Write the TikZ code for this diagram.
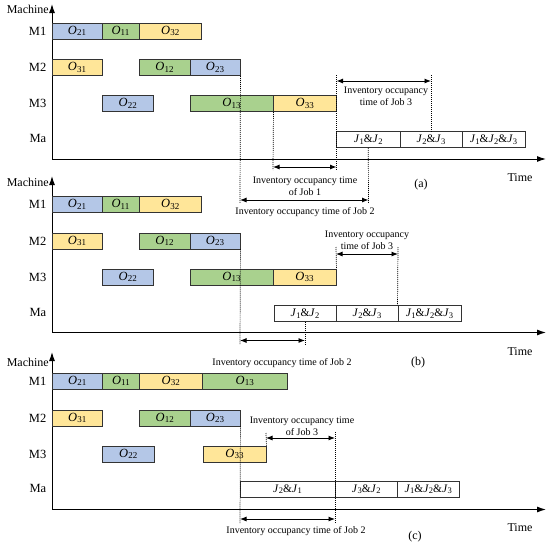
\documentclass[tikz,border=0pt]{standalone}
\usepackage{fontspec}
\setmainfont{Liberation Serif}
\usetikzlibrary{arrows.meta}
\definecolor{cblue}{HTML}{B4C7E7}
\definecolor{cgreen}{HTML}{A9D18E}
\definecolor{cyellow}{HTML}{FFE699}
\newcommand\Op[1]{\textit{O}\raisebox{-0.28ex}{\fontsize{9}{10}\selectfont #1}}
\newcommand\Jb[1]{\textit{J}\raisebox{-0.28ex}{\fontsize{8.5}{10}\selectfont #1}}
\newcommand\jt{\fontsize{11.5}{13}\selectfont}
\newcommand\gbox[6]{\node[barbox,fill=#2,minimum width={#4-#3}] (#1) at ({(#3+#4)/2},#5) {#6};}
\begin{document}
\begin{tikzpicture}[x=1pt,y=-1pt,
  barbox/.style={draw=black!80,line width=0.9pt,minimum height=16,inner sep=0pt,font=\fontsize{12.5}{13}\selectfont},
  axisline/.style={-{Latex[length=9pt,width=6pt]},line width=1pt},
  dimarrow/.style={{Latex[length=6.5pt,width=5pt]}-{Latex[length=6.5pt,width=5pt]},line width=0.9pt},
  dotline/.style={line width=0.7pt,dash pattern=on 1pt off 1pt},
  lbl/.style={inner sep=0pt,font=\fontsize{10}{12}\selectfont,align=center},
  axlbl/.style={inner sep=0pt,font=\fontsize{12}{14}\selectfont},
  rowlbl/.style={inner sep=0pt,anchor=east,font=\fontsize{12.5}{14}\selectfont}]
\useasboundingbox (0,0) rectangle (550,549);

% ================= panel (a) =================
\coordinate (aO) at (52,159);
\coordinate (aYtop) at (52,4);
\coordinate (aXend) at (546,159);
\draw[axisline] (aO) -- (aYtop);
\draw[axisline] (aO) -- (aXend);
\node[axlbl,anchor=east] (amach) at (49,9) {Machine};
\node[rowlbl] (aM1) at (46.5,31) {M1};
\node[rowlbl] (aM2) at (46.5,67.5) {M2};
\node[rowlbl] (aM3) at (46.5,103.5) {M3};
\node[rowlbl] (aMa) at (46.5,138) {Ma};
\node[axlbl] (atime) at (520,178) {Time};
\node[axlbl] (acap) at (421,185) {(a)};

\gbox{a21}{cblue}{52}{102}{31}{\Op{21}}
\gbox{a11}{cgreen}{102}{139}{31}{\Op{11}}
\gbox{a32}{cyellow}{139}{201.5}{31}{\Op{32}}
\gbox{a31}{cyellow}{52}{102}{67.5}{\Op{31}}
\gbox{a12}{cgreen}{139}{190}{67.5}{\Op{12}}
\gbox{a23}{cblue}{190}{240}{67.5}{\Op{23}}
\gbox{a22}{cblue}{102}{153.5}{103.5}{\Op{22}}
\gbox{a13}{cgreen}{190}{273}{103.5}{\Op{13}}
\gbox{a33}{cyellow}{273}{336.5}{103.5}{\Op{33}}
\gbox{aJ12}{white}{336.5}{400}{139.5}{\jt\Jb{1}\&\Jb{2}}
\gbox{aJ23}{white}{400}{462}{139.5}{\jt\Jb{2}\&\Jb{3}}
\gbox{aJ123}{white}{462}{525}{139.5}{\jt\Jb{1}\&\Jb{2}\&\Jb{3}}

\coordinate (aj2l) at (240,200);
\coordinate (aj2r) at (368.5,200);
\coordinate (aj2lb) at (240,203);
\coordinate (aj2rb) at (368.5,203);
\coordinate (aj1l) at (273,167);
\coordinate (aj1r) at (336.5,167);
\coordinate (aj1lb) at (273,170);
\coordinate (aj1rb) at (336.5,170);
\coordinate (aj3l) at (336.5,81);
\coordinate (aj3r) at (431,81);
\coordinate (aj3lt) at (336.5,75);
\coordinate (aj3rt) at (431,75);
\draw[dotline] (a23.south east) -- (aj2lb);
\draw[dotline] (aJ12.south) -- (aj2rb);
\draw[dotline] (a13.south east) -- (aj1lb);
\draw[dotline] (aj3lt) -- (aj1rb);
\draw[dotline] (aj3rt) -- (aJ23.north);
\draw[dimarrow] (aj2l) -- (aj2r);
\draw[dimarrow] (aj1l) -- (aj1r);
\draw[dimarrow] (aj3l) -- (aj3r);
\node[lbl] (aL2) at (305,212) {Inventory occupancy time of Job 2};
\node[lbl] (aL1) at (305,186) {Inventory occupancy time\\of Job 1};
\node[lbl] (aL3) at (386,96) {Inventory occupancy\\time of Job 3};

% ================= panel (b) =================
\coordinate (bO) at (52,332.5);
\coordinate (bYtop) at (52,176);
\coordinate (bXend) at (546,332.5);
\draw[axisline] (bO) -- (bYtop);
\draw[axisline] (bO) -- (bXend);
\node[axlbl,anchor=east] (bmach) at (49,182) {Machine};
\node[rowlbl] (bM1) at (46.5,204.5) {M1};
\node[rowlbl] (bM2) at (46.5,241) {M2};
\node[rowlbl] (bM3) at (46.5,277) {M3};
\node[rowlbl] (bMa) at (46.5,312) {Ma};
\node[axlbl] (btime) at (520,352) {Time};
\node[axlbl] (bcap) at (418,363) {(b)};

\gbox{b21}{cblue}{52}{102}{204.5}{\Op{21}}
\gbox{b11}{cgreen}{102}{139}{204.5}{\Op{11}}
\gbox{b32}{cyellow}{139}{201.5}{204.5}{\Op{32}}
\gbox{b31}{cyellow}{52}{102}{241}{\Op{31}}
\gbox{b12}{cgreen}{139}{190}{241}{\Op{12}}
\gbox{b23}{cblue}{190}{240}{241}{\Op{23}}
\gbox{b22}{cblue}{102}{153.5}{277}{\Op{22}}
\gbox{b13}{cgreen}{190}{273}{277}{\Op{13}}
\gbox{b33}{cyellow}{273}{336}{277}{\Op{33}}
\gbox{bJ12}{white}{274}{336}{313.5}{\jt\Jb{1}\&\Jb{2}}
\gbox{bJ23}{white}{336}{398}{313.5}{\jt\Jb{2}\&\Jb{3}}
\gbox{bJ123}{white}{398}{461}{313.5}{\jt\Jb{1}\&\Jb{2}\&\Jb{3}}

\coordinate (bj2l) at (240,340.5);
\coordinate (bj2r) at (305,340.5);
\coordinate (bj2lb) at (240,344);
\coordinate (bj2rb) at (305,344);
\coordinate (bj3l) at (336,254);
\coordinate (bj3r) at (398,254);
\coordinate (bj3lt) at (336,247);
\coordinate (bj3rt) at (398,247);
\draw[dotline] (b23.south east) -- (bj2lb);
\draw[dotline] (bJ12.south) -- (bj2rb);
\draw[dotline] (bj3lt) -- (b33.north east);
\draw[dotline] (bj3rt) -- (bJ123.north west);
\draw[dimarrow] (bj2l) -- (bj2r);
\draw[dimarrow] (bj3l) -- (bj3r);
\node[lbl] (bL2) at (282,363) {Inventory occupancy time of Job 2};
\node[lbl] (bL3) at (367,240.5) {Inventory occupancy\\time of Job 3};

% ================= panel (c) =================
\coordinate (cO) at (52,509.5);
\coordinate (cYtop) at (52,352);
\coordinate (cXend) at (546,509.5);
\draw[axisline] (cO) -- (cYtop);
\draw[axisline] (cO) -- (cXend);
\node[axlbl,anchor=east] (cmach) at (49,362) {Machine};
\node[rowlbl] (cM1) at (46.5,381) {M1};
\node[rowlbl] (cM2) at (46.5,418) {M2};
\node[rowlbl] (cM3) at (46.5,454) {M3};
\node[rowlbl] (cMa) at (46.5,488) {Ma};
\node[axlbl] (ctime) at (520,528) {Time};
\node[axlbl] (ccap) at (415,537) {(c)};

\gbox{c21}{cblue}{52}{102.5}{381}{\Op{21}}
\gbox{c11}{cgreen}{102.5}{139.5}{381}{\Op{11}}
\gbox{c32}{cyellow}{139.5}{202}{381}{\Op{32}}
\gbox{c13}{cgreen}{202}{287.5}{381}{\Op{13}}
\gbox{c31}{cyellow}{52}{102.5}{418}{\Op{31}}
\gbox{c12}{cgreen}{139.5}{190}{418}{\Op{12}}
\gbox{c23}{cblue}{190}{240}{418}{\Op{23}}
\gbox{c22}{cblue}{102.5}{154}{454}{\Op{22}}
\gbox{c33}{cyellow}{203}{266}{454}{\Op{33}}
\gbox{cJ21}{white}{240}{335}{489}{\jt\Jb{2}\&\Jb{1}}
\gbox{cJ32}{white}{335}{397.5}{489}{\jt\Jb{3}\&\Jb{2}}
\gbox{cJ123}{white}{397.5}{459}{489}{\jt\Jb{1}\&\Jb{2}\&\Jb{3}}

\coordinate (cj2l) at (240,519);
\coordinate (cj2r) at (335,519);
\coordinate (cj2lb) at (240,523);
\coordinate (cj2rb) at (335,523);
\coordinate (cj3l) at (266,438);
\coordinate (cj3r) at (335,438);
\coordinate (cj3lt) at (266,433);
\coordinate (cj3rt) at (335,432);
\draw[dotline] (c23.south east) -- (cj2lb);
\draw[dotline] (cj3lt) -- (c33.north east);
\draw[dotline] (cj3rt) -- (cj2rb);
\draw[dimarrow] (cj2l) -- (cj2r);
\draw[dimarrow] (cj3l) -- (cj3r);
\node[lbl] (cL2) at (296,531) {Inventory occupancy time of Job 2};
\node[lbl] (cL3) at (302,426) {Inventory occupancy time\\of Job 3};
\end{tikzpicture}
\end{document}
